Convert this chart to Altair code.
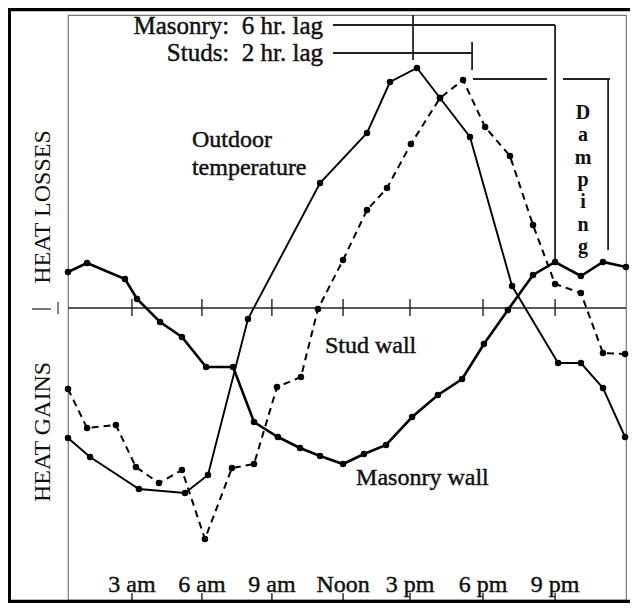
import altair as alt
import pandas as pd

# ---- data (hours after midnight, relative heat flow) ----
outdoor_hour = [0.00, 0.95, 3.05, 5.03, 6.02, 7.74, 10.84, 12.86, 13.85, 15.01, 16.00,
                17.29, 19.10, 21.08, 22.06, 23.01, 23.96]
outdoor_val = [-130, -149, -181, -185, -167, -11, 125, 175, 226, 240, 210,
               171, 22, -55, -55, -80, -129]

stud_hour = [0.00, 0.82, 2.06, 2.92, 3.91, 4.90, 5.89, 7.05, 8.00, 8.99, 10.02, 10.75,
             11.83, 12.86, 13.72, 14.75, 16.00, 16.99, 17.94, 19.01, 20.00, 20.95,
             22.06, 23.01, 23.96]
stud_val = [-81, -120, -117, -159, -175, -162, -231, -160, -156, -79, -69, -1,
            48, 98, 120, 164, 210, 228, 181, 152, 83, 24, 15, -45, -46]

masonry_hour = [0.00, 0.82, 2.45, 2.97, 3.96, 4.90, 5.94, 7.10, 8.00, 9.03, 9.98, 10.84,
                11.83, 12.73, 13.68, 14.80, 15.91, 16.95, 17.89, 18.92, 20.00, 20.95,
                22.06, 23.01, 24.00]
masonry_val = [36, 45, 29, 9, -14, -29, -59, -59, -114, -129, -140, -148,
               -156, -146, -137, -109, -87, -71, -36, -2, 33, 46, 32, 46, 41]

tick_hours = [2.75, 5.76, 8.77, 11.83, 14.71, 17.85, 20.95]
tick_labels = ["3 am", "6 am", "9 am", "Noon", "3 pm", "6 pm", "9 pm"]

# lag / damping annotation segments (hour, value)
seg_h1 = [11.40, 11.40, 14.84, 17.38, 20.95, 17.42, 21.29, 23.23]
seg_h2 = [20.95, 17.38, 14.84, 17.38, 20.95, 20.60, 23.31, 23.23]
seg_v1 = [283, 255, 293, 266, 283, 229, 229, 229]
seg_v2 = [283, 255, 248, 238, 46, 229, 229, 58]

NB = "\u00a0"
note_text = ["Masonry:" + NB + " 6 hr. lag", "Studs:" + NB + " 2 hr. lag"]
note_hour = [10.97, 10.97]
note_val = [274, 247]

label_text = ["Outdoor", "temperature", "Stud wall", "Masonry wall"]
label_hour = [5.33, 5.33, 11.05, 12.39]
label_val = [161, 133, -45, -177]

damping_text = "D\na\nm\np\ni\nn\ng"
damping_hour = 22.15
damping_val = 205

FONT = "Liberation Serif"
INK = "#111"
X = alt.X("h:Q", scale=alt.Scale(domain=[0, 24], nice=False, zero=False), axis=None)
YS = alt.Scale(domain=[-292, 293], nice=False, zero=False)
Y = alt.Y("v:Q", scale=YS, axis=None)
one = pd.DataFrame({"k": [0]})
TXT = dict(font=FONT, color=INK, stroke=INK, strokeWidth=0.45)


def series(hours, vals, width, dash=None):
    df = pd.DataFrame({"h": hours, "v": vals})
    line_kw = dict(color="black", strokeWidth=width)
    if dash:
        line_kw["strokeDash"] = dash
    line = alt.Chart(df).mark_line(**line_kw).encode(x=X, y=Y)
    pts = alt.Chart(df).mark_circle(color="black", size=42, opacity=1).encode(x=X, y=Y)
    return line + pts


outdoor = series(outdoor_hour, outdoor_val, 1.9)
stud = series(stud_hour, stud_val, 2.0, [7, 5])
masonry = series(masonry_hour, masonry_val, 2.6)

zero = alt.Chart(pd.DataFrame({"v": [0]})).mark_rule(color="#222", strokeWidth=1.4).encode(y=Y)

tdf = pd.DataFrame({"h": tick_hours, "label": tick_labels, "a": 9, "b": -8})
zero_ticks = alt.Chart(tdf).mark_rule(color="#222", strokeWidth=1.4).encode(
    x=X, y=alt.Y("a:Q", scale=YS, axis=None), y2="b:Q")
bottom_ticks = alt.Chart(tdf).mark_rule(color="#222", strokeWidth=1.4).encode(
    x=X, y=alt.value(578), y2=alt.value(586))
tick_text = alt.Chart(tdf).mark_text(fontSize=24, baseline="alphabetic", align="center",
                                     **TXT).encode(x=X, y=alt.value(577), text="label:N")

sdf = pd.DataFrame({"h": seg_h1, "h2": seg_h2, "v": seg_v1, "v2": seg_v2})
segs = alt.Chart(sdf).mark_rule(color="#222", strokeWidth=1.8).encode(
    x=X, x2="h2:Q", y=Y, y2="v2:Q")

ndf = pd.DataFrame({"h": note_hour, "v": note_val, "t": note_text})
notes = alt.Chart(ndf).mark_text(fontSize=25, align="right", baseline="alphabetic",
                                 **TXT).encode(x=X, y=Y, text="t:N")

ldf = pd.DataFrame({"h": label_hour, "v": label_val, "t": label_text})
labels = alt.Chart(ldf).mark_text(fontSize=24, align="left", baseline="alphabetic",
                                  **TXT).encode(x=X, y=Y, text="t:N")

ddf = pd.DataFrame({"h": [damping_hour], "v": [damping_val], "t": [damping_text]})
damping = alt.Chart(ddf).mark_text(font=FONT, fontSize=20, fontWeight="bold", color=INK,
                                   align="center", baseline="top", lineBreak="\n",
                                   lineHeight=22.3).encode(x=X, y=Y, text="t:N")

side = pd.DataFrame({"t": ["HEAT LOSSES", "HEAT GAINS"], "yy": [192, 417]})
side_text = alt.Chart(side).mark_text(font=FONT, fontSize=24, color=INK, angle=270,
                                      align="center", baseline="middle").encode(
    x=alt.value(-25), y=alt.Y("yy:Q", scale=None), text="t:N")

dash_mark = alt.Chart(one).mark_rule(color="#333", strokeWidth=1.3).encode(
    x=alt.value(-36), x2=alt.value(-17), y=alt.value(294))
bar_mark = alt.Chart(one).mark_rule(color="#333", strokeWidth=1.2).encode(
    x=alt.value(-10), y=alt.value(287), y2=alt.value(299))

frame_top = alt.Chart(one).mark_rule(color="black", strokeWidth=3.5).encode(
    x=alt.value(-60), x2=alt.value(562), y=alt.value(-5.5))
frame_left = alt.Chart(one).mark_rule(color="black", strokeWidth=3).encode(
    x=alt.value(-58.5), y=alt.value(-7), y2=alt.value(588))
frame_bottom = alt.Chart(one).mark_rule(color="black", strokeWidth=3.5).encode(
    x=alt.value(-60), x2=alt.value(562), y=alt.value(586.5))

chart = alt.layer(
    zero, zero_ticks, bottom_ticks, segs,
    outdoor, stud, masonry,
    tick_text, notes, labels, damping, side_text, dash_mark, bar_mark,
    frame_top, frame_left, frame_bottom,
).properties(
    width=558, height=585,
    autosize=alt.AutoSizeParams(type="none"),
    padding={"left": 60, "top": 7, "right": 4, "bottom": 3},
    background="white",
).configure_view(stroke="#777", strokeWidth=1.2)

chart.save("out.html", embed_options={"renderer": "svg", "actions": False})
